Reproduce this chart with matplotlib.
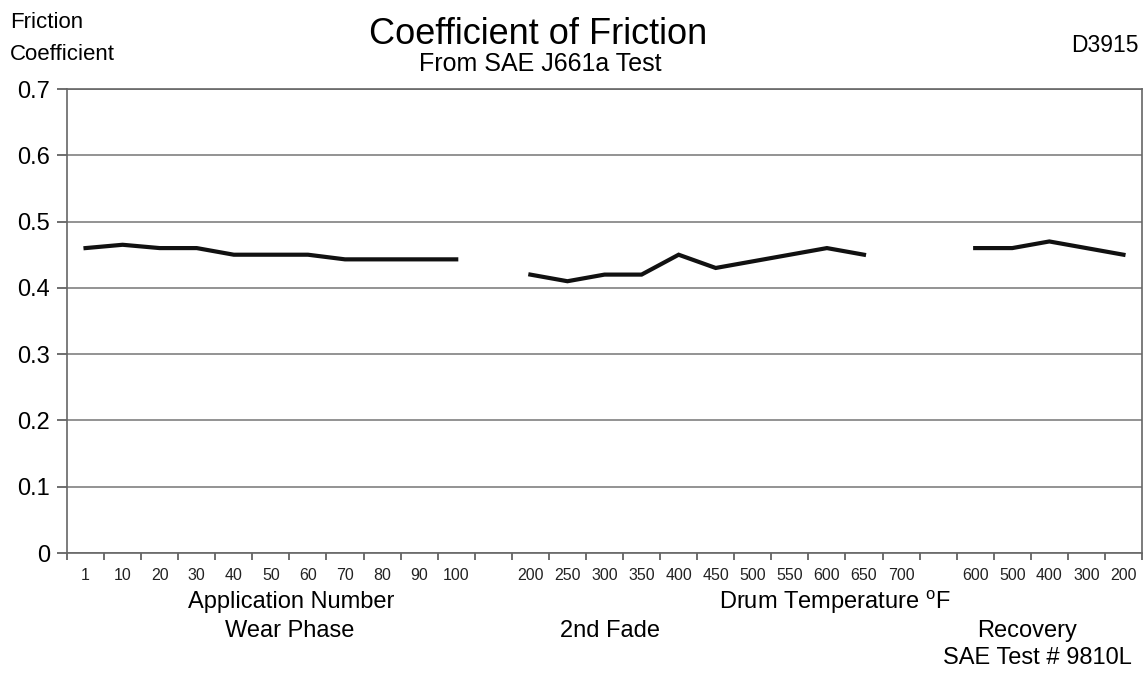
import numpy as np
import matplotlib.pyplot as plt

plt.rcParams['font.family'] = ['Liberation Sans', 'DejaVu Sans']

# Category labels along the x axis (blank slots separate the three phases)
wear_labels = ['1', '10', '20', '30', '40', '50', '60', '70', '80', '90', '100']
fade_labels = ['200', '250', '300', '350', '400', '450', '500', '550', '600', '650', '700']
recovery_labels = ['600', '500', '400', '300', '200']

# Friction coefficient readings
wear_mu = [0.46, 0.465, 0.46, 0.46, 0.45, 0.45, 0.45, 0.443, 0.443, 0.443, 0.443]
fade_mu = [0.42, 0.41, 0.42, 0.42, 0.45, 0.43, 0.44, 0.45, 0.46, 0.45, np.nan]
recovery_mu = [0.46, 0.46, 0.47, 0.46, 0.45]

labels = wear_labels + [''] + fade_labels + [''] + recovery_labels
n = len(labels)
x_wear = np.arange(len(wear_labels))
x_fade = np.arange(len(fade_labels)) + len(wear_labels) + 1
x_rec = np.arange(len(recovery_labels)) + len(wear_labels) + len(fade_labels) + 2

W, H = 1146, 673
fig = plt.figure(figsize=(W / 100, H / 100), dpi=100)
ax = fig.add_axes([67 / W, 1 - 553 / H, (1142 - 67) / W, (553 - 89) / H])

for xs, ys in [(x_wear, wear_mu), (x_fade, fade_mu), (x_rec, recovery_mu)]:
    ax.plot(xs, ys, color='#111111', lw=3, solid_joinstyle='miter')

ax.set_xlim(-0.5, n - 0.5)
ax.set_ylim(0, 0.7)
ax.set_yticks(np.arange(0, 0.71, 0.1))
ax.set_yticklabels(['0', '0.1', '0.2', '0.3', '0.4', '0.5', '0.6', '0.7'], fontsize=17)
ax.yaxis.grid(True, color='#808080', lw=1.2)
ax.set_axisbelow(True)

# labels at category centres, tick marks at category boundaries
ax.set_xticks(np.arange(n))
ax.set_xticklabels(labels, fontsize=11.5, color='#222222')
ax.tick_params(axis='x', which='major', length=0, pad=11)
ax.set_xticks(np.arange(n + 1) - 0.5, minor=True)
ax.tick_params(axis='x', which='minor', length=5, color='#555555', width=1.2)
ax.tick_params(axis='y', length=7, color='#555555', width=1.2, pad=5)

for side in ['left', 'right', 'bottom', 'top']:
    ax.spines[side].set_color('#666666')
    ax.spines[side].set_linewidth(1.2)


def put(x, y, s, size, ha='center'):
    fig.text(x / W, 1 - y / H, s, fontsize=size, ha=ha, va='center')


put(10, 23, 'Friction', 16, ha='left')
put(10, 54, 'Coefficient', 16, ha='left')
put(538, 35, 'Coefficient of Friction', 26)
put(540, 64, 'From SAE J661a Test', 18)
put(1139, 46, 'D3915', 16.5, ha='right')

put(291, 602, 'Application Number', 17)
put(835, 602, r'Drum Temperature $^{\mathregular{o}}$F', 17)
put(290, 631, 'Wear Phase', 17)
put(610, 631, '2nd Fade', 17)
put(1027, 631, 'Recovery', 17)
put(1037, 658, 'SAE Test # 9810L', 17)

plt.savefig('out.png', dpi=100)
